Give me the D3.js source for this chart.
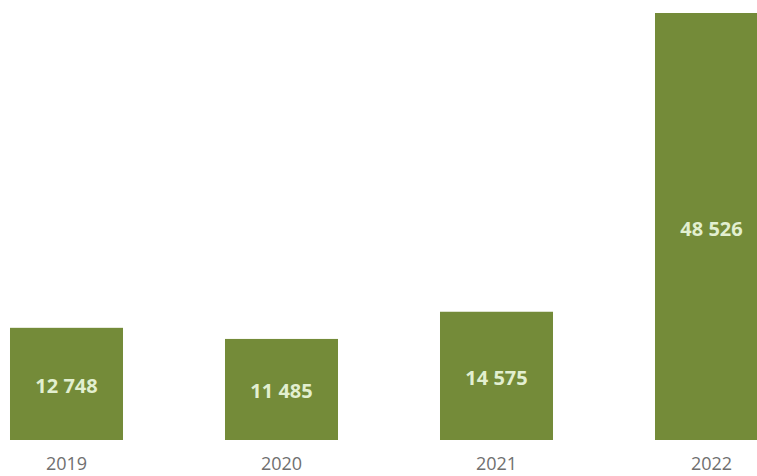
<!DOCTYPE html>
<html>
<head>
<meta charset="utf-8">
<script src="https://cdnjs.cloudflare.com/ajax/libs/d3/7.8.5/d3.min.js"></script>
<style>
  body { margin: 0; background: #fff; }
</style>
</head>
<body>
<div class="chart"></div>
<script>
var years = ["2019", "2020", "2021", "2022"]
var values = [12748, 11485, 14575, 48526]
var valueLabels = ["12 748", "11 485", "14 575", "48 526"]

var svg = d3.select(".chart")
  .append("svg")
  .attr("width", 757)
  .attr("height", 476)

var x = d3.scaleBand()
  .domain(years)
  .range([-41, 819])
  .paddingInner(0.4744)
  .paddingOuter(0.2372)

var y = d3.scaleLinear()
  .domain([0, 48526])
  .range([440, 13])

// bars
svg.selectAll(".bar")
  .data(values)
  .enter()
  .append("rect")
  .attr("class", "bar")
  .attr("x", (d, i) => x(years[i]))
  .attr("y", d => y(d))
  .attr("width", x.bandwidth())
  .attr("height", d => y(0) - y(d))
  .style("fill", "#748b39")

// value labels in the middle of the bars
svg.selectAll(".val")
  .data(values)
  .enter()
  .append("text")
  .attr("class", "val")
  .attr("x", (d, i) => x(years[i]) + x.bandwidth() / 2)
  .attr("y", d => (y(d) + y(0)) / 2 + 2)
  .attr("dy", "0.35em")
  .attr("text-anchor", "middle")
  .text((d, i) => valueLabels[i])
  .style("font-size", "20px")
  .attr("font-family", "'Open Sans', sans-serif")
  .attr("font-weight", "bold")
  .attr("fill", "#e2efd0")

// x axis, no line or ticks
var xAxis = svg.append("g")
  .attr("transform", "translate(0,450)")
  .call(d3.axisBottom(x).tickSize(0).tickPadding(0))

xAxis.select(".domain").remove()
xAxis.selectAll("text")
  .attr("dy", 0)
  .attr("y", 20)
  .style("font-size", "18px")
  .attr("font-family", "'Open Sans', sans-serif")
  .attr("fill", "#6f6f6f")
</script>
</body>
</html>
